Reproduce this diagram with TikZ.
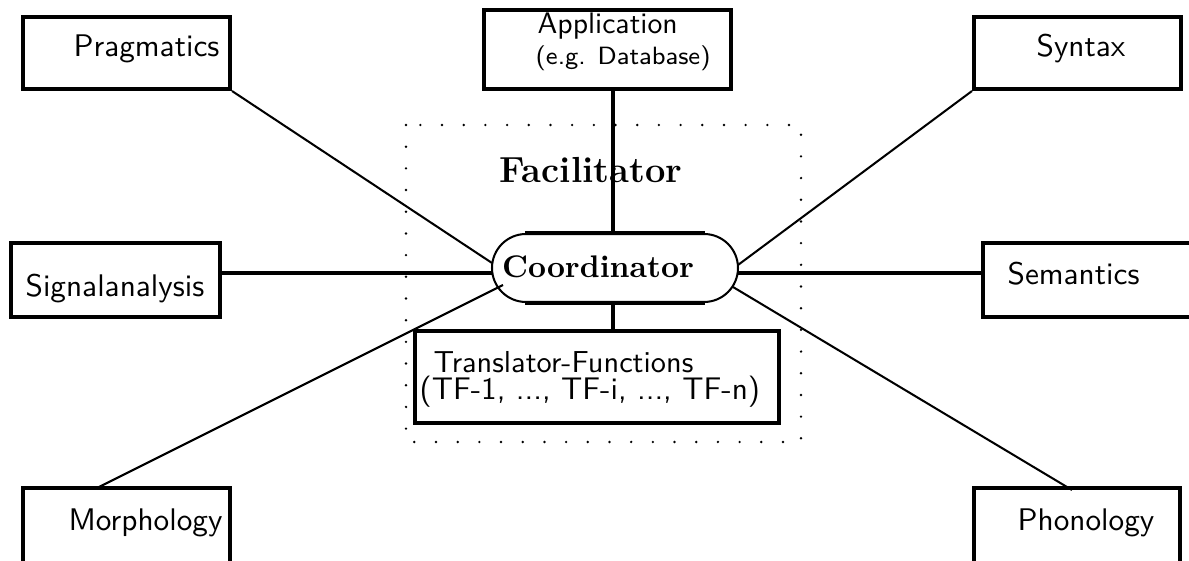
\documentclass[tikz,border=0pt]{standalone}
\usetikzlibrary{fit,calc}
\begin{document}
\begin{tikzpicture}[x=0.32pt,y=-0.32pt,
  box/.style={draw,line width=1.3pt,inner sep=0pt},
  lab/.style={font=\sffamily,inner sep=0pt,anchor=base west},
  thinline/.style={line width=0.65pt},
  heavy/.style={line width=1.3pt},
  dots/.style={line width=0.85pt,line cap=round,dash pattern=on 0pt off 6.94pt}]
\useasboundingbox (0,0) rectangle (1189,561);
\clip (0,0) rectangle (1189,561);
% facilitator frame
\draw[dots] (406,125) rectangle (801,442);
% boxes
\node[box,fit={(23,17)(230,89)}] (prag) {};
\node[box,fit={(484,10)(731,89)}] (app) {};
\node[box,fit={(974,17)(1181,89)}] (syn) {};
\node[box,fit={(11,243)(220,317)}] (sig) {};
\node[box,fit={(983,243)(1210,317)}] (sem) {};
\node[box,fit={(23,488)(230,590)}] (mor) {};
\node[box,fit={(974,488)(1180,590)}] (pho) {};
\node[box,fit={(415,331)(779,423)}] (tf) {};
% coordinator
\node[draw,thinline,rounded corners=10.88pt,inner sep=0pt,fit={(492,234)(738,302)}] (coord) {};
\draw[heavy] ([xshift=10.88pt]coord.north west) -- ([xshift=-10.88pt]coord.north east);
\draw[heavy] ([xshift=10.88pt]coord.south west) -- ([xshift=-10.88pt]coord.south east);
% texts
\node[lab] (tprag) at (73,57) {Pragmatics};
\node[lab] (tsyn) at (1036,57) {Syntax};
\node[lab] (tsig) at (25,297) {Signalanalysis};
\node[lab] (tsem) at (1007,285) {Semantics};
\node[lab] (tmor) at (68,531) {Morphology};
\node[lab] (tpho) at (1017,531) {Phonology};
\node[lab,font=\sffamily\fontsize{9.5}{11}\selectfont] (tapp) at (537,34) {Application};
\node[lab,font=\sffamily\footnotesize] (tapp2) at (535,65) {(e.g. Database)};
\node[lab,font=\sffamily\fontsize{9.7}{12}\selectfont] (ttf1) at (433,373) {Translator-Functions};
\node[lab] (ttf2) at (419,400) {(TF-1, ..., TF-i, ..., TF-n)};
\node[font=\fontsize{11.6}{14}\selectfont\bfseries,anchor=base,inner sep=0pt] (fac) at (591,183) {Facilitator};
\node[font=\bfseries,anchor=base,inner sep=0pt] (tcoord) at (598,278) {Coordinator};
% connector end points
\coordinate (vtop) at (613,89);
\coordinate (cpr) at (492,263);
\coordinate (csi) at (492,273);
\coordinate (cmo) at (503,285);
\coordinate (csy) at (738,265);
\coordinate (cse) at (738,273);
\coordinate (cph) at (733,287);
\coordinate (mtop) at (97,488);
\coordinate (ptop) at (1072,490);
% connectors
\draw[heavy] (vtop) -- (vtop |- coord.north);
\draw[heavy] (vtop |- coord.south) -- (vtop |- tf.north);
\draw[heavy] (sig.east |- csi) -- (csi);
\draw[heavy] (cse) -- (sem.west |- cse);
\draw[thinline] (prag.south east) -- (cpr);
\draw[thinline] (syn.south west) -- (csy);
\draw[thinline] (mtop) -- (cmo);
\draw[thinline] (ptop) -- (cph);
\end{tikzpicture}
\end{document}
